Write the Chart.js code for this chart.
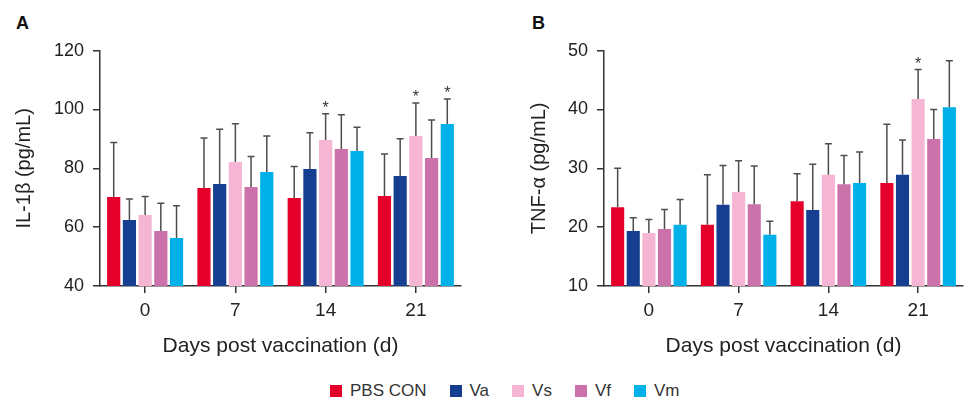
<!DOCTYPE html>
<html>
<head>
<meta charset="utf-8">
<script src="https://cdn.jsdelivr.net/npm/chart.js@4/dist/chart.umd.min.js"></script>
<style>
    body { margin: 0; background: #fff; }
    #wrap { position: relative; width: 970px; height: 401px; overflow: hidden; font-family: "Liberation Sans", Arial, sans-serif; }
    canvas { position: absolute; top: 0; }
    .panel { position: absolute; font-weight: bold; font-size: 18px; line-height: 18px; color: #111; }
    #legend { position: absolute; left: 330px; top: 381px; display: flex; align-items: center; font-size: 17px; color: #333; }
    #legend .item { display: flex; align-items: center; margin-right: 23px; }
    #legend .box { width: 12px; height: 12px; margin-right: 8px; }
</style>
</head>
<body>
<div id="wrap">
    <div class="panel" style="left:16px; top:14px;">A</div>
    <div class="panel" style="left:532px; top:14px;">B</div>
    <canvas id="chartA" width="485" height="370" style="left:0;"></canvas>
    <canvas id="chartB" width="485" height="370" style="left:485px;"></canvas>
    <div id="legend"></div>
</div>
<script>
// Categories and groups
const days = ['0', '7', '14', '21'];
const groups = ['PBS CON', 'Va', 'Vs', 'Vf', 'Vm'];
const groupColors = ['#e4002b', '#163f91', '#f5b5d3', '#cc72ab', '#00b1e9'];

// IL-1beta means (pg/mL), one array per group
const il1bPBS = [70.3, 73.3, 69.9, 70.6];
const il1bVa  = [62.4, 74.7, 79.8, 77.4];
const il1bVs  = [64.1, 82.2, 89.6, 91.0];
const il1bVf  = [58.7, 73.7, 86.6, 83.5];
const il1bVm  = [56.3, 78.8, 85.9, 95.1];
// top of the error bar (mean + SD)
const il1bErrPBS = [88.8, 90.3, 80.6, 84.9];
const il1bErrVa  = [69.6, 93.3, 92.1, 90.1];
const il1bErrVs  = [70.4, 95.2, 98.6, 102.2];
const il1bErrVf  = [68.1, 84.0, 98.2, 96.4];
const il1bErrVm  = [67.3, 91.0, 94.0, 103.6];
// significant bars: [group index, day index]
const il1bStars = [[2, 2], [2, 3], [4, 3]];

// TNF-alpha means (pg/mL)
const tnfPBS = [23.4, 20.4, 24.4, 27.5];
const tnfVa  = [19.35, 23.8, 22.9, 28.9];
const tnfVs  = [19.0, 26.0, 28.9, 41.8];
const tnfVf  = [19.7, 23.9, 27.3, 35.0];
const tnfVm  = [20.4, 18.7, 27.5, 40.4];
const tnfErrPBS = [30.0, 28.9, 29.1, 37.5];
const tnfErrVa  = [21.6, 30.5, 30.7, 34.8];
const tnfErrVs  = [21.3, 31.3, 34.2, 46.8];
const tnfErrVf  = [23.0, 30.4, 32.2, 40.0];
const tnfErrVm  = [24.7, 21.0, 32.8, 48.3];
const tnfStars = [[2, 3]];

const fontFam = '"Liberation Sans", Arial, sans-serif';
const axisColor = '#333';
const textColor = '#222';

// Draws upper whiskers (and stars) on top of bars
const errorBars = {
    id: 'errorBars',
    afterDatasetsDraw(chart) {
        const ctx = chart.ctx;
        const y = chart.scales.y;
        const stars = chart.options.plugins.errorBars.stars;
        ctx.save();
        chart.data.datasets.forEach((ds, di) => {
            const meta = chart.getDatasetMeta(di);
            meta.data.forEach((bar, i) => {
                const top = y.getPixelForValue(ds.errTop[i]);
                ctx.strokeStyle = '#4d4d4d';
                ctx.lineWidth = 1.5;
                ctx.beginPath();
                ctx.moveTo(bar.x, bar.y);
                ctx.lineTo(bar.x, top);
                ctx.moveTo(bar.x - 3.5, top);
                ctx.lineTo(bar.x + 3.5, top);
                ctx.stroke();
                if (stars.some(s => s[0] === di && s[1] === i)) {
                    ctx.fillStyle = '#333';
                    ctx.font = '16px ' + fontFam;
                    ctx.textAlign = 'center';
                    ctx.textBaseline = 'alphabetic';
                    ctx.fillText('*', bar.x, top - 1);
                }
            });
        });
        ctx.restore();
    }
};

function makeDatasets(means, errs) {
    return groups.map((g, i) => ({
        label: g,
        data: means[i],
        errTop: errs[i],
        backgroundColor: groupColors[i],
        borderWidth: 0,
        categoryPercentage: 0.87,
        barPercentage: 0.84,
    }));
}

function makeChart(id, means, errs, stars, yTitle, yMin, yMax, yStep, pad, yWidth, titlePad) {
    return new Chart(document.getElementById(id), {
        type: 'bar',
        data: { labels: days, datasets: makeDatasets(means, errs) },
        plugins: [errorBars],
        options: {
            responsive: false,
            animation: false,
            devicePixelRatio: 1,
            layout: { padding: pad },
            plugins: {
                legend: { display: false },
                tooltip: { enabled: false },
                errorBars: { stars: stars },
            },
            scales: {
                x: {
                    offset: true,
                    grid: { display: true, offset: false, drawOnChartArea: false, drawTicks: true, tickLength: 7, color: axisColor, lineWidth: 1.5 },
                    border: { display: true, color: axisColor, width: 1.5 },
                    ticks: { color: textColor, font: { family: fontFam, size: 19 }, padding: 6 },
                    title: { display: true, text: 'Days post vaccination (d)', color: textColor, font: { family: fontFam, size: 21 }, padding: { top: 4, bottom: 11.4 } },
                    afterFit(scale) { scale.height = 84; },
                },
                y: {
                    min: yMin,
                    max: yMax,
                    grid: { display: true, drawOnChartArea: false, drawTicks: true, tickLength: 7, color: axisColor, lineWidth: 1.5 },
                    border: { display: true, color: axisColor, width: 1.5 },
                    ticks: { stepSize: yStep, color: textColor, font: { family: fontFam, size: 18 }, padding: 9 },
                    title: { display: true, text: yTitle, color: textColor, font: { family: fontFam, size: 20 }, padding: { top: titlePad, bottom: 4 } },
                    afterFit(scale) { scale.width = yWidth; },
                },
            },
        },
    });
}

makeChart('chartA',
    [il1bPBS, il1bVa, il1bVs, il1bVf, il1bVm],
    [il1bErrPBS, il1bErrVa, il1bErrVs, il1bErrVf, il1bErrVm],
    il1bStars, 'IL-1β (pg/mL)', 40, 120, 20,
    { left: 0, right: 24, top: 50.7, bottom: 0 }, 100, 12);

makeChart('chartB',
    [tnfPBS, tnfVa, tnfVs, tnfVf, tnfVm],
    [tnfErrPBS, tnfErrVa, tnfErrVs, tnfErrVf, tnfErrVm],
    tnfStars, 'TNF-α (pg/mL)', 10, 50, 10,
    { left: 30, right: 7, top: 50.7, bottom: 0 }, 89, 12);

// Shared legend under both panels
const legend = document.getElementById('legend');
groups.forEach((g, i) => {
    const item = document.createElement('div');
    item.className = 'item';
    item.innerHTML = '<span class="box" style="background:' + groupColors[i] + '"></span><span>' + g + '</span>';
    legend.appendChild(item);
});
</script>
</body>
</html>
